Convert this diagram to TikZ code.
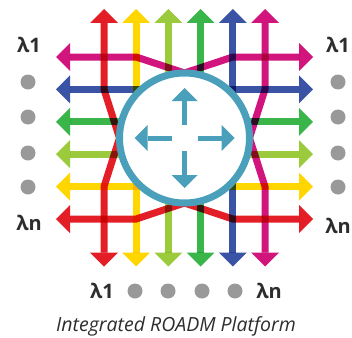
\documentclass[tikz,border=0pt]{standalone}
\usepackage{fontspec}
\setmainfont{Open Sans}
\usepackage{tikz}
\usetikzlibrary{arrows.meta}
\definecolor{wred}{RGB}{227,30,38}
\definecolor{wyellow}{RGB}{255,214,0}
\definecolor{wlime}{RGB}{155,202,60}
\definecolor{wgreen}{RGB}{57,181,74}
\definecolor{wblue}{RGB}{58,83,164}
\definecolor{wmagenta}{RGB}{210,20,125}
\definecolor{roadmteal}{RGB}{74,160,186}
\definecolor{dotgray}{RGB}{153,153,153}
\definecolor{labgray}{RGB}{45,45,45}
\tikzset{
  lane/.style={{Triangle[width=28pt,length=14pt,line width=0pt]}-{Triangle[width=28pt,length=14pt,line width=0pt]},line width=7pt},
  chdot/.style={circle,fill=dotgray,inner sep=0pt,minimum size=15pt},
  lamlabel/.style={font=\fontsize{20}{20}\selectfont\bfseries,text=labgray,anchor=base},
  inarr/.style={-{Triangle[width=26pt,length=13pt,line width=0pt]},line width=5pt,draw=roadmteal}
}

\begin{document}
\begin{tikzpicture}[x=1pt,y=-1pt]
  \useasboundingbox (0,0) rectangle (352,337);

  \coordinate (ctr) at (184.5,138);
  \foreach \i in {1,...,6}{
    \pgfmathsetmacro{\cx}{184.5+(\i-3.5)*32.2}
    \pgfmathsetmacro{\ry}{138+(\i-3.5)*32.4}
    \coordinate (top\i) at (\cx,9);
    \coordinate (bot\i) at (\cx,266.5);
    \coordinate (lft\i) at (56,\ry);
    \coordinate (rgt\i) at (313,\ry);
  }
  \coordinate (ringW) at (119.5,138);
  \coordinate (ringE) at (249.5,138);
  \coordinate (ringN) at (184.5,73);
  \coordinate (ringS) at (184.5,203);

  \begin{scope}[blend mode=multiply]
    \foreach \i/\col in {2/wyellow,3/wlime,4/wgreen,5/wblue}{
      \draw[lane,color=\col] (top\i) -- (bot\i);
    }
    \foreach \i/\col in {2/wblue,3/wgreen,4/wlime,5/wyellow}{
      \draw[lane,color=\col] (lft\i) -- (rgt\i);
    }
    \draw[lane,color=wred] (top1) -- (top1 |- lft2) -- (ringW) -- (top1 |- lft5) -- (bot1);
    \draw[lane,color=wmagenta] (top6) -- (top6 |- rgt2) -- (ringE) -- (top6 |- rgt5) -- (bot6);
    \draw[lane,color=wmagenta] (lft1) -- (lft1 -| top2) -- (ringN) -- (lft1 -| top5) -- (rgt1);
    \draw[lane,color=wred] (lft6) -- (lft6 -| top2) -- (ringS) -- (lft6 -| top5) -- (rgt6);
  \end{scope}

  \node[circle,draw=roadmteal,fill=white,line width=7pt,minimum size=130pt,inner sep=0pt] (roadm) at (ctr) {};
  \foreach \a in {0,90,180,270}{
    \draw[inarr] ([shift={(\a:13)}]ctr) -- ([shift={(\a:50)}]ctr);
  }

  \node[lamlabel] (oneL) at (29,52) {λ1};
  \node[lamlabel] (nL) at (29,230) {λn};
  \node[lamlabel] (oneR) at (338,52) {λ1};
  \node[lamlabel] (nR) at (338,233) {λn};
  \node[lamlabel] (oneB) at (102,298) {λ1};
  \node[lamlabel] (nB) at (269,298) {λn};
  \foreach \y [count=\k] in {82,117,153,187}{
    \node[chdot] (dotL\k) at (28,\y) {};
    \node[chdot] (dotR\k) at (338,\y) {};
  }
  \foreach \x [count=\k] in {135,168,202,235}{
    \node[chdot] (dotB\k) at (\x,291) {};
  }

  \node[font=\fontsize{19.5}{19.5}\selectfont\itshape,text=labgray,anchor=base] (caption) at (176,331)
    {Integrated ROADM Platform};
\end{tikzpicture}
\end{document}
